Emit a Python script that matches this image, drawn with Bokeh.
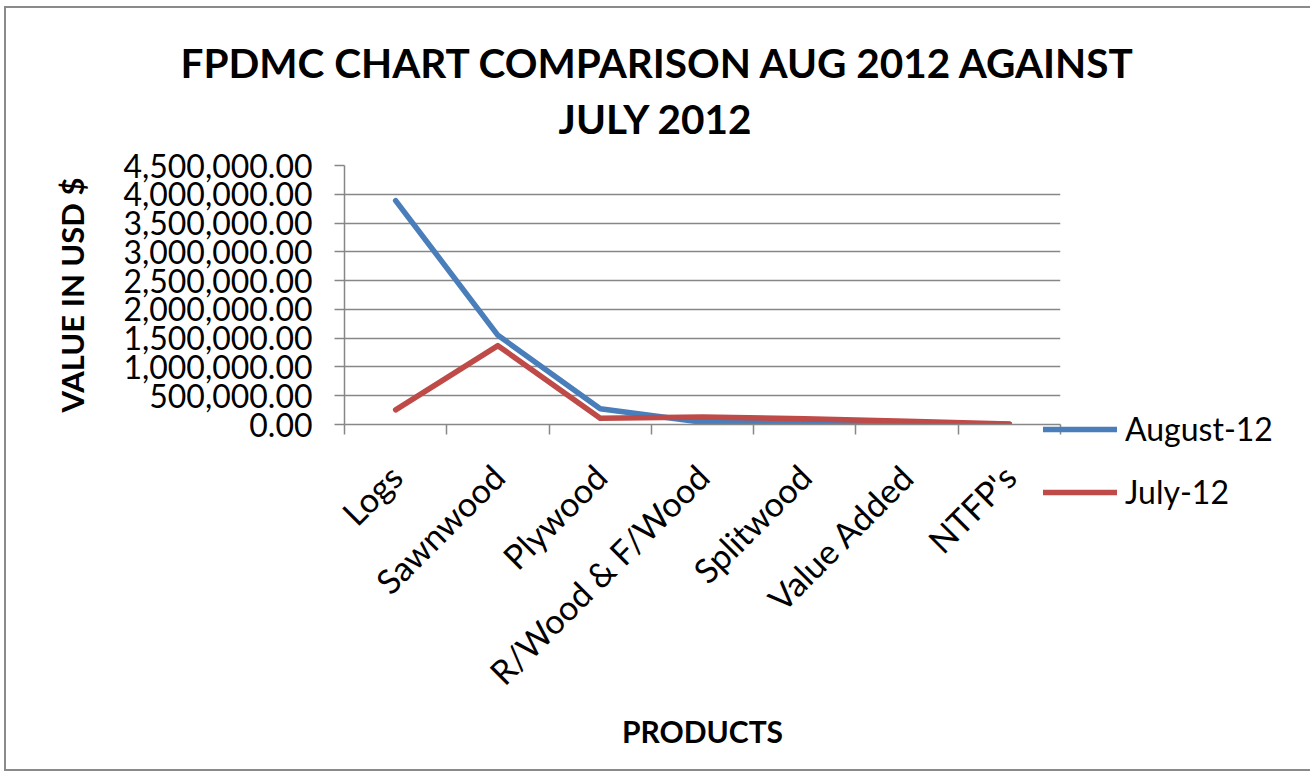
import math
from bokeh.plotting import figure
from bokeh.models import (FixedTicker, NumeralTickFormatter, Legend, LegendItem,
                          Title, Range1d)
from bokeh.embed import file_html
from bokeh.resources import INLINE

categories = ["Logs", "Sawnwood", "Plywood", "R/Wood & F/Wood", "Splitwood", "Value Added", "NTFP's"]
august_12 = [3890000, 1550000, 275000, 40000, 30000, 10000, 5000]
july_12 = [255000, 1370000, 110000, 130000, 100000, 55000, 10000]
y_ticks = [0, 500000, 1000000, 1500000, 2000000, 2500000, 3000000, 3500000, 4000000, 4500000]

FONT = "Lato"
GRID = "#878787"
BLUE = "#4A7EBB"
RED = "#BE4B48"

x_pos = [i + 0.5 for i in range(len(categories))]

p = figure(frame_width=716, frame_height=259, output_backend="svg", toolbar_location=None,
           x_range=Range1d(0, len(categories)), y_range=Range1d(0, y_ticks[-1]),
           min_border_left=338, min_border_right=244, min_border_top=157,
           min_border_bottom=345)
p.margin = (6, 0, 0, 4)
p.outline_line_color = None
p.background_fill_color = "white"
p.border_fill_color = "white"
p.styles = {"border": "2px solid #8a8a8a"}

# titles (second line added first, stacked outward)
t2 = Title(text="JULY 2012", align="left", text_font=FONT, text_font_size="40.5px",
           text_font_style="bold", text_color="black", standoff=46, offset=214)
t1 = Title(text="FPDMC CHART COMPARISON AUG 2012 AGAINST", align="left", text_font=FONT,
           text_font_size="40.5px", text_font_style="bold", text_color="black",
           standoff=-37, offset=-164)
p.add_layout(t2, "above")
p.add_layout(t1, "above")

# x axis: labels at category centres, ticks at boundaries (minor ticks)
p.xaxis.ticker = FixedTicker(ticks=x_pos, minor_ticks=list(range(len(categories) + 1)))
p.xaxis.major_label_overrides = {x: c for x, c in zip(x_pos, categories)}
p.xaxis.major_label_orientation = math.pi / 4
p.xaxis.major_tick_line_color = None
p.xaxis.minor_tick_line_color = GRID
p.xaxis.minor_tick_line_width = 1.5
p.xaxis.minor_tick_out = 10
p.xaxis.minor_tick_in = 0
p.xaxis.axis_line_color = GRID
p.xaxis.axis_line_width = 1.5
p.xaxis.major_label_text_font = FONT
p.xaxis.major_label_text_font_size = "34px"
p.xaxis.major_label_text_color = "black"
p.xaxis.major_label_standoff = 36
p.xaxis.axis_label = "PRODUCTS"
p.xaxis.axis_label_text_font = FONT
p.xaxis.axis_label_text_font_size = "30px"
p.xaxis.axis_label_text_font_style = "bold"
p.xaxis.axis_label_text_color = "black"
p.xaxis.axis_label_standoff = 3

# y axis
p.yaxis.ticker = FixedTicker(ticks=y_ticks, minor_ticks=[])
p.yaxis.formatter = NumeralTickFormatter(format="0,0.00")
p.yaxis.major_tick_line_color = GRID
p.yaxis.major_tick_line_width = 1.5
p.yaxis.major_tick_out = 10
p.yaxis.major_tick_in = 0
p.yaxis.axis_line_color = GRID
p.yaxis.axis_line_width = 1.5
p.yaxis.major_label_text_font = FONT
p.yaxis.major_label_text_font_size = "32px"
p.yaxis.major_label_text_color = "black"
p.yaxis.major_label_standoff = 22
p.yaxis.axis_label = "VALUE IN USD $"
p.yaxis.axis_label_text_font = FONT
p.yaxis.axis_label_text_font_size = "31px"
p.yaxis.axis_label_text_font_style = "bold"
p.yaxis.axis_label_text_color = "black"
p.yaxis.axis_label_standoff = 29

p.xgrid.visible = False
p.ygrid.ticker = FixedTicker(ticks=y_ticks)
p.ygrid.grid_line_color = GRID
p.ygrid.grid_line_width = 1.5

r_aug = p.line(x_pos, august_12, line_color=BLUE, line_width=5.5,
               line_cap="round", line_join="round")
r_jul = p.line(x_pos, july_12, line_color=RED, line_width=5.5,
               line_cap="round", line_join="round")

legend = Legend(items=[LegendItem(label="August-12", renderers=[r_aug]),
                       LegendItem(label="July-12", renderers=[r_jul])],
                location=(-17, -87), orientation="vertical",
                glyph_width=74, glyph_height=30, label_height=30,
                label_standoff=8, spacing=24, padding=0, margin=0,
                border_line_color=None, background_fill_alpha=0,
                label_text_font=FONT, label_text_font_size="32px",
                label_text_color="black")
p.add_layout(legend, "right")

open("out.html", "w").write(file_html(p, INLINE))
